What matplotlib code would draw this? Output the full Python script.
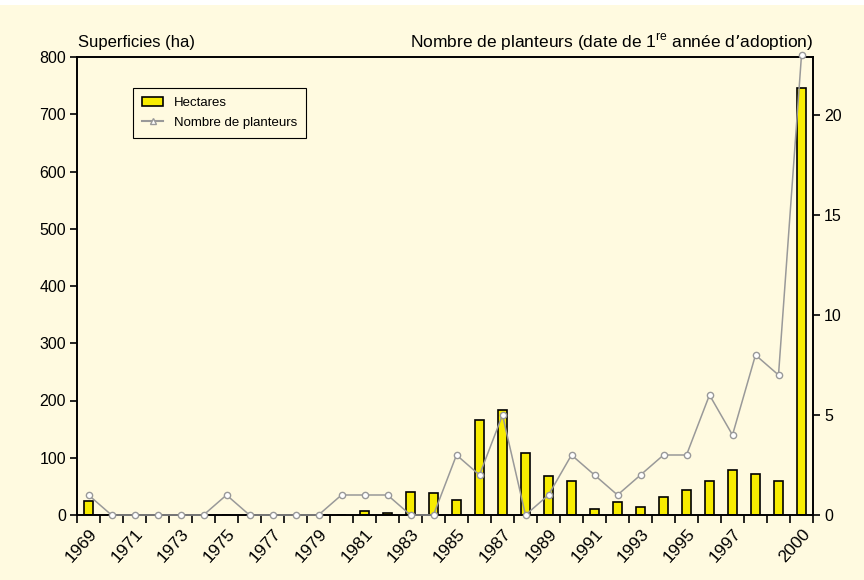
import matplotlib
matplotlib.use("Agg")
import matplotlib.pyplot as plt
from matplotlib.lines import Line2D
from matplotlib.patches import Patch, Rectangle

years = [str(y) for y in range(1969, 2001)]
hectares = [25, 0, 0, 0, 0, 0, 0, 0, 0, 0, 0, 0, 7, 4, 41, 38, 26, 166, 183, 108,
            68, 59, 10, 22, 14, 32, 44, 59, 78, 71, 59, 745]
planteurs = [1, 0, 0, 0, 0, 0, 1, 0, 0, 0, 0, 1, 1, 1, 0, 0, 3, 2, 5, 0,
             1, 3, 2, 1, 2, 3, 3, 6, 4, 8, 7, 23]
tick_labels = ["1969", "1971", "1973", "1975", "1977", "1979", "1981", "1983",
               "1985", "1987", "1989", "1991", "1993", "1995", "1997", "2000"]
tick_idx = [years.index(t) for t in tick_labels]

bg = "#FFFAE0"
plt.rcParams['font.family'] = ['Liberation Sans', 'DejaVu Sans']

fig = plt.figure(figsize=(8.64, 5.8), dpi=100, facecolor=bg)
fig.patches.append(Rectangle((0, 1 - 5 / 580), 1, 5 / 580, transform=fig.transFigure,
                             facecolor="white", edgecolor="none", zorder=-1))
ax = fig.add_axes([77 / 864, 65 / 580, 736 / 864, 458 / 580])
ax.set_facecolor(bg)
x = list(range(len(years)))
ax.bar(x, hectares, width=0.4, color="#F7EC00", edgecolor="black", linewidth=1.2, zorder=2)
ax.set_xlim(-0.5, len(years) - 0.5)
ax.set_ylim(0, 800)
ax.set_yticks(range(0, 801, 100))
ax.tick_params(axis='y', direction='out', length=5, width=1.2, labelsize=11.5, pad=3)

ax.set_xticks(tick_idx)
ax.set_xticklabels(tick_labels, rotation=48, ha='right', rotation_mode='anchor', fontsize=12.5)
ax.tick_params(axis='x', which='major', length=0, pad=8)
ax.set_xticks([i - 0.5 for i in range(len(years) + 1)], minor=True)
ax.tick_params(axis='x', which='minor', direction='out', length=6, width=1.2)

for s in ax.spines.values():
    s.set_linewidth(1.2)

ax2 = ax.twinx()
ax2.plot(x, planteurs, color="#999999", linewidth=1.1, marker='o', markersize=4.5,
         markerfacecolor='white', markeredgecolor='#999999', zorder=3, clip_on=False)
ax2.set_ylim(0, 22.9)
ax2.set_yticks([0, 5, 10, 15, 20])
ax2.tick_params(axis='y', direction='out', length=5, width=1.2, labelsize=11.5, pad=3)
for s in ax2.spines.values():
    s.set_linewidth(1.2)

fig.text(78 / 864, 1 - 42 / 580, "Superficies (ha)", fontsize=12, ha='left', va='center')
fig.text(813 / 864, 1 - 42 / 580, "Nombre de planteurs (date de 1$^{\\mathregular{re}}$ année d\u2019adoption)",
         fontsize=12.5, ha='right', va='center')

handles = [Patch(facecolor="#F7EC00", edgecolor="black", linewidth=1.2, label="Hectares"),
           Line2D([], [], color="#999999", marker='^', markersize=4, markerfacecolor='white',
                  label="Nombre de planteurs")]
leg = ax.legend(handles=handles, loc='upper left', bbox_to_anchor=(56 / 736, 1 - 31 / 458),
                borderaxespad=0, fontsize=9.5, frameon=True, fancybox=False, edgecolor='black',
                facecolor=bg, framealpha=1, handlelength=1.6, borderpad=0.7, labelspacing=0.55)
leg.get_frame().set_linewidth(0.8)
leg.set_zorder(5)

fig.savefig("out.png", dpi=100, facecolor=bg)
